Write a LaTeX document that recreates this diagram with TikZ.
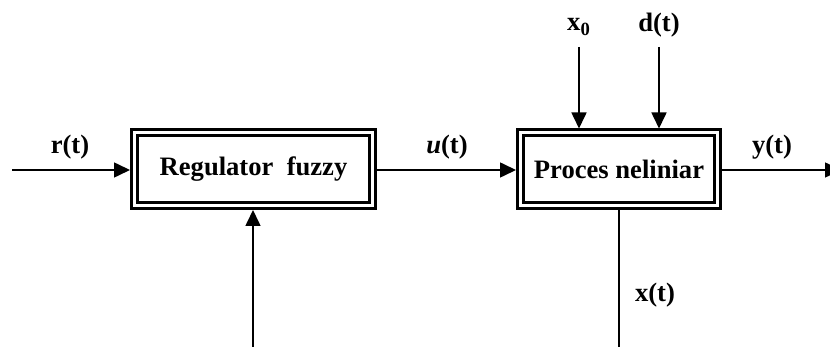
\documentclass[tikz,border=0pt]{standalone}
\usepackage{fontspec}
\setmainfont{Liberation Serif}
\usetikzlibrary{positioning, arrows.meta}
\tikzset{
  block/.style={draw, line width=1.5pt, double, double distance=1.5pt, outer sep=2.25pt,
                font=\fontsize{13.3}{16}\selectfont\bfseries, align=center,
                minimum width=119pt, minimum height=36.5pt},
  sig/.style={-{Triangle[length=8pt, width=7.5pt]}, line width=0.8pt},
  wire/.style={line width=0.8pt},
  lbl/.style={font=\fontsize{13.3}{16}\selectfont\bfseries, inner sep=0pt}
}

\begin{document}
\begin{tikzpicture}[x={(0.5pt,0)}, y={(0,-0.5pt)}]
  \useasboundingbox (0,0) rectangle (830,347);
  % blocks
  \node[block] (reg) at (253.5,169) {Regulator\ \ fuzzy};
  \node[block, minimum width=98.5pt] (proc) at (619,169.5) {Proces neliniar};
  % free ends
  \coordinate (rin) at (12,170);
  \coordinate (yout) at (841,170);
  \coordinate (x0in) at (579,47);
  \coordinate (din) at (659,47);
  \coordinate (fb) at (253,347);
  \coordinate (xout) at (619,347);
  % labels
  \node[lbl] (rl) at (70,147) {r(t)};
  \node[lbl] (ul) at (447,147) {\textit{u}(t)};
  \node[lbl] (yl) at (772,147) {y(t)};
  \node[lbl] (x0l) at (579,27) {x\textsubscript{0}};
  \node[lbl] (dl) at (659,25) {d(t)};
  \node[lbl] (xl) at (655,295) {x(t)};
  % signals
  \draw[sig] (rin) -- (reg.west |- rin);
  \draw[sig] (reg.east |- rin) -- (proc.west |- rin);
  \draw[sig] (proc.east |- rin) -- (yout);
  \draw[sig] (x0in) -- (proc.north -| x0in);
  \draw[sig] (din) -- (proc.north -| din);
  \draw[sig] (fb) -- (reg.south -| fb);
  \draw[wire] (proc.south -| xout) -- (xout);
\end{tikzpicture}
\end{document}
